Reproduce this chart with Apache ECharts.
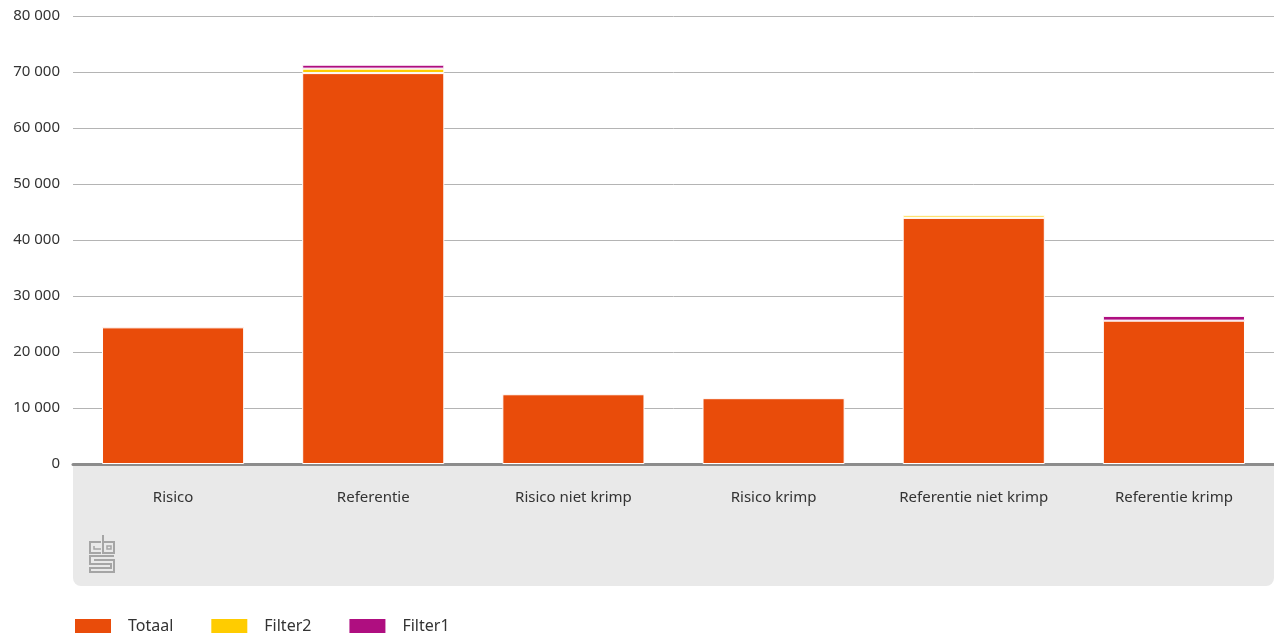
<!DOCTYPE html>
<html>
<head>
<meta charset="utf-8">
<script src="https://cdn.jsdelivr.net/npm/echarts@6/dist/echarts.min.js"></script>
<style>
  html, body { margin: 0; padding: 0; background: #fff; }
  #chart { width: 1274px; height: 637px; }
</style>
</head>
<body>
<div id="chart"></div>
<script>
// categorieen en waarden
const categories = ['Risico', 'Referentie', 'Risico niet krimp', 'Risico krimp', 'Referentie niet krimp', 'Referentie krimp'];
const totaal = [24400, 69800, 12450, 11750, 43950, 25600];
const filter2 = [null, 800, null, null, 450, null];
const filter1 = [null, 700, null, null, null, 850];
const yTicks = [0, 10000, 20000, 30000, 40000, 50000, 60000, 70000, 80000];

const fontFam = '"Noto Sans", sans-serif';
const fmt = v => String(v).replace(/\B(?=(\d{3})+(?!\d))/g, ' ');

let myChart = echarts.init(document.getElementById('chart'));

myChart.setOption({
  animation: false,
  textStyle: { fontFamily: fontFam },
  grid: { left: 73, right: 0, top: 16, bottom: 173, containLabel: false },
  legend: {
    left: 73, top: 617, padding: 0,
    itemWidth: 38, itemHeight: 16, itemGap: 36,
    icon: 'rect',
    textStyle: { fontSize: 16, color: '#333', padding: [0, 0, 0, 11], fontFamily: fontFam },
    data: ['Totaal', 'Filter2', 'Filter1']
  },
  graphic: [
    // grijze achtergrond onder de x-as
    { type: 'rect', z: -1, shape: { x: 73, y: 464, width: 1201, height: 122, r: [0, 0, 8, 8] }, style: { fill: '#e9e9e9' } },
    // cbs logo (vereenvoudigd)
    { type: 'group', x: 89, y: 535, children: [
      { type: 'polyline', shape: { points: [[12, 7], [1, 7], [1, 18], [12, 18]] }, style: { fill: null, stroke: '#a5a5a5', lineWidth: 2 } },
      { type: 'polyline', shape: { points: [[5, 11], [5, 14], [12, 14]] }, style: { fill: null, stroke: '#a5a5a5', lineWidth: 1.5 } },
      { type: 'polyline', shape: { points: [[14, 0], [14, 18], [25, 18], [25, 7], [14, 7]] }, style: { fill: null, stroke: '#a5a5a5', lineWidth: 2 } },
      { type: 'rect', shape: { x: 18, y: 11, width: 4, height: 3 }, style: { fill: null, stroke: '#a5a5a5', lineWidth: 1.5 } },
      { type: 'polyline', shape: { points: [[25, 21], [1, 21], [1, 29], [22, 29], [22, 33], [1, 33], [1, 37], [25, 37], [25, 25], [5, 25]] }, style: { fill: null, stroke: '#a5a5a5', lineWidth: 2 } }
    ]}
  ],
  xAxis: {
    type: 'category',
    data: categories,
    axisLine: { lineStyle: { color: '#8c8c8c', width: 3 } },
    axisTick: { show: false },
    axisLabel: { color: '#333', fontSize: 15, margin: 26, fontFamily: fontFam }
  },
  yAxis: {
    type: 'value',
    min: yTicks[0], max: yTicks[yTicks.length - 1], interval: 10000,
    axisLine: { show: false },
    axisTick: { show: false },
    splitLine: { lineStyle: { color: '#b4b4b4', width: 1 } },
    axisLabel: { color: '#333', fontSize: 15, margin: 13, formatter: fmt, fontFamily: fontFam }
  },
  series: [
    { name: 'Totaal', type: 'bar', stack: 'a', barWidth: '71%', data: totaal,
      itemStyle: { color: '#e94c0a', borderColor: '#fff', borderWidth: 1 } },
    { name: 'Filter2', type: 'bar', stack: 'a', data: filter2,
      itemStyle: { color: '#ffcc00', borderColor: '#fff', borderWidth: 1 } },
    { name: 'Filter1', type: 'bar', stack: 'a', data: filter1,
      itemStyle: { color: '#af0e80', borderColor: '#fff', borderWidth: 1 } }
  ]
});
</script>
</body>
</html>
